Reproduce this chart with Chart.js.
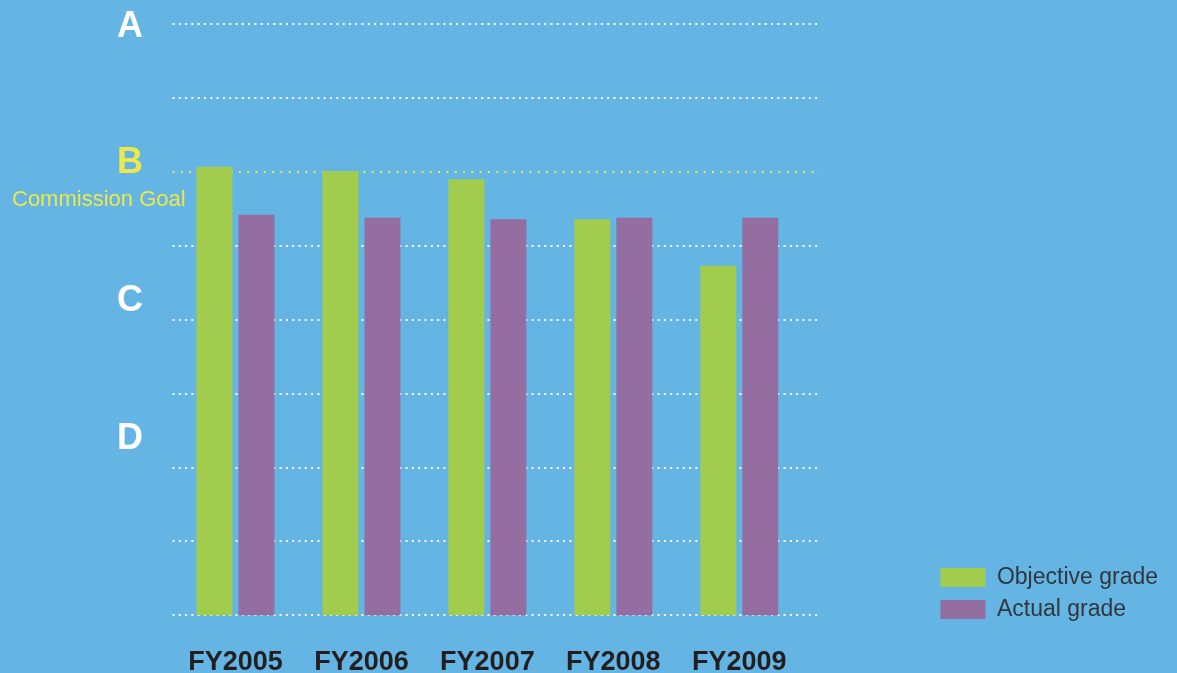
<!DOCTYPE html>
<html>
<head>
<meta charset="utf-8">
<style>
  html, body { margin: 0; padding: 0; background: #64b5e4; }
  #wrap { width: 1177px; height: 673px; }
</style>
<script src="https://cdn.jsdelivr.net/npm/chart.js@4/dist/chart.umd.min.js"></script>
</head>
<body>
<div id="wrap"><canvas id="grades" width="1177" height="673"></canvas></div>
<script>
// Fiscal years on the x axis
const years = ['FY2005', 'FY2006', 'FY2007', 'FY2008', 'FY2009'];
// Grade scores on a 0..8 scale (8 = A)
const objectiveGrade = [6.07, 6.01, 5.90, 5.36, 4.73];
const actualGrade = [5.42, 5.38, 5.36, 5.38, 5.38];
// Letter grades and where they sit on the score scale
const gradeLetters = ['A', 'B', 'C', 'D'];
const gradeLevels = [7.96, 6.12, 4.25, 2.39];
// Commission goal level
const goalLevel = 6;
const goalText = 'Commission Goal';
const goalTextLevel = 5.62;

const FONT = "'Liberation Sans', Arial, Helvetica, sans-serif";
const WHITE = '#ffffff';
const YELLOW = '#ece84b';
const GREEN = '#a2cc4e';
const PURPLE = '#956ea1';

const toPoints = vals => vals.map((v, i) => ({ x: i, y: v }));

// Small caption under the goal letter
const goalCaption = {
  id: 'goalCaption',
  afterDraw(chart) {
    const s = chart.scales.yl;
    const ctx = chart.ctx;
    ctx.save();
    ctx.font = '22px ' + FONT;
    ctx.fillStyle = YELLOW;
    ctx.textAlign = 'left';
    ctx.textBaseline = 'middle';
    ctx.fillText(goalText, 12, s.getPixelForValue(goalTextLevel));
    ctx.restore();
  }
};

// Sit the legend a little below the bottom of the plot area
const legendDrop = {
  id: 'legendDrop',
  afterLayout(chart) {
    const l = chart.legend;
    if (l) l.bottom = chart.chartArea.bottom + 14.6;
  }
};

new Chart(document.getElementById('grades'), {
  type: 'bar',
  data: {
    datasets: [
      { label: 'Objective grade', data: toPoints(objectiveGrade), backgroundColor: GREEN, borderWidth: 0 },
      { label: 'Actual grade', data: toPoints(actualGrade), backgroundColor: PURPLE, borderWidth: 0 }
    ]
  },
  options: {
    responsive: false,
    animation: false,
    categoryPercentage: 0.667,
    barPercentage: 0.857,
    layout: { padding: { top: 24, right: 9, bottom: 0, left: 0 } },
    scales: {
      x: {
        type: 'linear',
        min: -0.5,
        max: 4.64,
        offset: false,
        grid: { display: false, drawTicks: false },
        border: { display: false },
        afterBuildTicks: s => { s.ticks = years.map((_, i) => ({ value: i })); },
        afterFit: s => { s.height = 57.6; s.paddingLeft = 0; s.paddingRight = 0; },
        ticks: {
          padding: 30.6,
          autoSkip: false,
          maxRotation: 0,
          color: '#231f20',
          font: { family: FONT, size: 27, weight: 'bold' },
          callback: v => years[v]
        }
      },
      yl: {
        type: 'linear',
        position: 'left',
        min: 0,
        max: 8,
        grid: { display: false, drawTicks: false },
        border: { display: false },
        afterBuildTicks: s => { s.ticks = gradeLevels.map(v => ({ value: v })); },
        afterFit: s => { s.width = 172.5; s.paddingTop = 0; s.paddingBottom = 0; },
        ticks: {
          padding: 29.5,
          autoSkip: false,
          color: c => (c.index === 1 ? YELLOW : WHITE),
          font: { family: FONT, size: 36, weight: 'bold' },
          callback: (v, i) => gradeLetters[i]
        }
      },
      y: {
        type: 'linear',
        position: 'right',
        min: 0,
        max: 8,
        afterFit: s => { s.width = 111.5; s.paddingTop = 0; s.paddingBottom = 0; },
        grid: {
          drawTicks: false,
          lineWidth: 2,
          color: c => (c.tick && c.tick.value === goalLevel ? YELLOW : WHITE)
        },
        border: {
          display: false,
          dash: c => (c.tick && c.tick.value === goalLevel ? [2, 6.3] : [2, 4.3])
        },
        ticks: { display: false, stepSize: 1 }
      }
    },
    plugins: {
      legend: {
        position: 'right',
        align: 'end',
        maxWidth: 300,
        labels: {
          boxWidth: 45,
          boxHeight: 19,
          padding: 9,
          color: '#33373d',
          font: { family: FONT, size: 23 }
        }
      },
      tooltip: { enabled: false }
    }
  },
  plugins: [goalCaption, legendDrop]
});
</script>
</body>
</html>
